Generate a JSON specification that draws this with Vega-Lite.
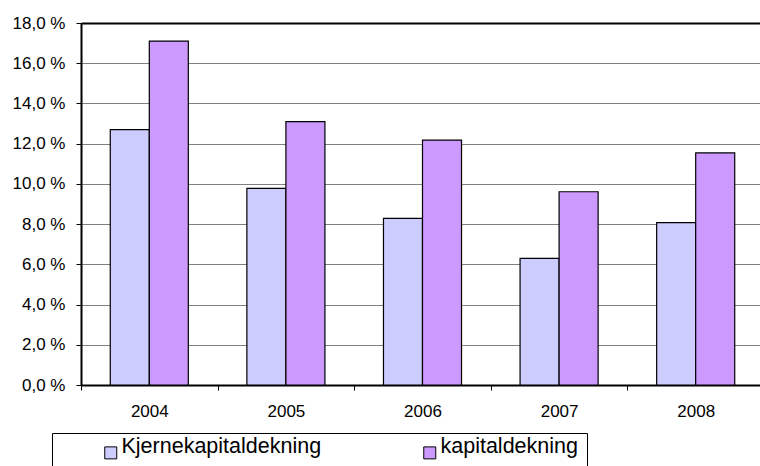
{
  "$schema": "https://vega.github.io/schema/vega-lite/v6.json",
  "width": 679,
  "height": 362,
  "autosize": {"type": "none"},
  "padding": {"left": 81, "top": 23, "right": 0, "bottom": 81},
  "background": "white",
  "config": {
    "view": {"stroke": null},
    "font": "Liberation Sans",
    "axis": {"labelFont": "Liberation Sans", "labelFontSize": 17, "labelColor": "black"}
  },
  "data": {
    "values": [
      {"year": "2004", "series": "Kjernekapitaldekning", "value": 12.7},
      {"year": "2004", "series": "kapitaldekning", "value": 17.1},
      {"year": "2005", "series": "Kjernekapitaldekning", "value": 9.78},
      {"year": "2005", "series": "kapitaldekning", "value": 13.1},
      {"year": "2006", "series": "Kjernekapitaldekning", "value": 8.29},
      {"year": "2006", "series": "kapitaldekning", "value": 12.18},
      {"year": "2007", "series": "Kjernekapitaldekning", "value": 6.3},
      {"year": "2007", "series": "kapitaldekning", "value": 9.61},
      {"year": "2008", "series": "Kjernekapitaldekning", "value": 8.07},
      {"year": "2008", "series": "kapitaldekning", "value": 11.54}
    ]
  },
  "mark": {"type": "bar", "stroke": "black", "strokeWidth": 1.2},
  "encoding": {
    "x": {
      "field": "year",
      "type": "nominal",
      "scale": {"range": [0, 683], "paddingInner": 0, "paddingOuter": 0},
      "axis": {
        "title": null,
        "labelAngle": 0,
        "tickBand": "extent",
        "tickSize": 5,
        "tickColor": "black",
        "domainColor": "black",
        "domainWidth": 2,
        "labelPadding": 13,
        "grid": false
      }
    },
    "xOffset": {
      "field": "series",
      "type": "nominal",
      "scale": {"domain": ["Kjernekapitaldekning", "kapitaldekning"], "paddingInner": 0, "paddingOuter": 0.75}
    },
    "y": {
      "field": "value",
      "type": "quantitative",
      "scale": {"domain": [0, 18], "nice": false},
      "axis": {
        "title": null,
        "values": [0, 2, 4, 6, 8, 10, 12, 14, 16, 18],
        "labelExpr": "replace(format(datum.value, '.1f'), '.', ',') + ' %'",
        "tickSize": 5,
        "tickColor": "black",
        "domainColor": "black",
        "domainWidth": 2,
        "labelPadding": 11,
        "gridColor": {"condition": {"test": "datum.value === 18", "value": "black"}, "value": "#808080"},
        "gridWidth": {"condition": {"test": "datum.value === 18", "value": 2}, "value": 1}
      }
    },
    "color": {
      "field": "series",
      "type": "nominal",
      "scale": {"domain": ["Kjernekapitaldekning", "kapitaldekning"], "range": ["#CCCCFF", "#CC99FF"]},
      "legend": {
        "orient": "none",
        "legendX": -29,
        "legendY": 410,
        "direction": "horizontal",
        "columns": 2,
        "title": null,
        "labelFont": "Liberation Sans",
        "labelFontSize": 21.5,
        "labelColor": "black",
        "labelLimit": 400,
        "labelBaseline": "alphabetic",
        "symbolType": "square",
        "symbolSize": 144,
        "symbolStrokeColor": "black",
        "symbolStrokeWidth": 1,
        "strokeColor": "black",
        "fillColor": "white",
        "padding": 9,
        "symbolOffset": 39,
        "labelOffset": 0,
        "columnPadding": 58
      }
    }
  }
}
